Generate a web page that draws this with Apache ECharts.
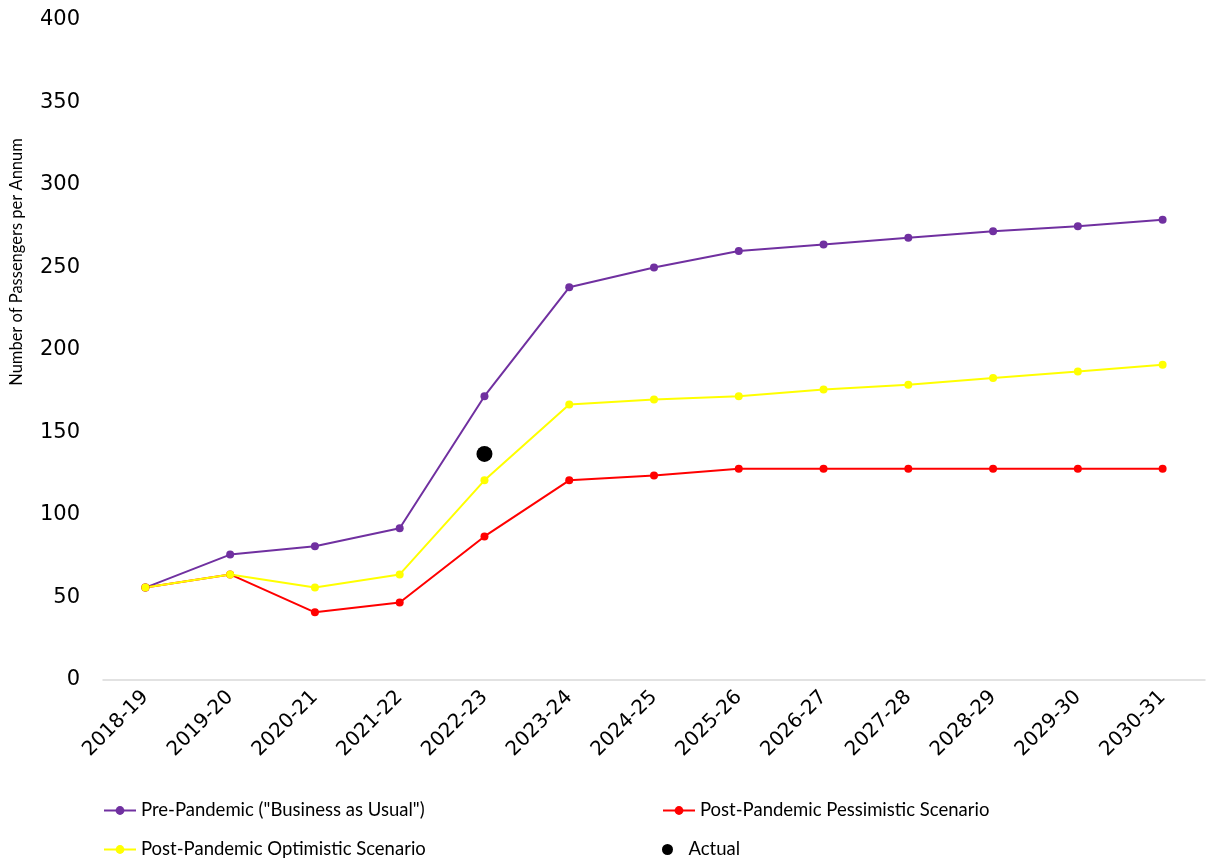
<!DOCTYPE html>
<html>
<head>
<meta charset="utf-8">
<script src="https://cdn.jsdelivr.net/npm/echarts@6/dist/echarts.min.js"></script>
<style>
  html, body { margin: 0; padding: 0; background: #fff; }
  #chart { width: 1210px; height: 860px; }
</style>
</head>
<body>
<div id="chart"></div>
<script>
// Financial years on the x axis
const years = ['2018-19', '2019-20', '2020-21', '2021-22', '2022-23', '2023-24', '2024-25',
  '2025-26', '2026-27', '2027-28', '2028-29', '2029-30', '2030-31'];

// Passenger forecasts per scenario
const prePandemic = [56, 76, 81, 92, 172, 238, 250, 260, 264, 268, 272, 275, 279];
const pessimistic = [56, 64, 41, 47, 87, 121, 124, 128, 128, 128, 128, 128, 128];
const optimistic = [56, 64, 56, 64, 121, 167, 170, 172, 176, 179, 183, 187, 191];
// Observed figure (only 2022-23 known)
const actual = [null, null, null, null, 137, null, null, null, null, null, null, null, null];

const yTicks = { min: 0, max: 400, interval: 50 };

const seriesNames = {
  pre: 'Pre-Pandemic ("Business as Usual")',
  pess: 'Post-Pandemic Pessimistic Scenario',
  opt: 'Post-Pandemic Optimistic Scenario',
  act: 'Actual'
};

const AXIS_FONT = '"DejaVu Sans", Lato, sans-serif';
const LEGEND_FONT = 'Lato, "DejaVu Sans", sans-serif';
const TITLE_FONT = 'Lato, "DejaVu Sans", sans-serif';
const chart = echarts.init(document.getElementById('chart'));

function lineSeries(name, data, color) {
  return {
    name, type: 'line', data,
    symbol: 'circle', symbolSize: 8,
    lineStyle: { color, width: 2 },
    itemStyle: { color },
    z: 2
  };
}

function legendAt(name, left, top) {
  return {
    data: [name], left, top,
    itemWidth: 32, itemHeight: 11, itemGap: 4,
    textStyle: { fontFamily: LEGEND_FONT, fontSize: 18.5, color: '#000' },
    selectedMode: false
  };
}

chart.setOption({
  animation: false,
  backgroundColor: '#fff',
  grid: { left: 103, right: 5, top: 20, bottom: 180 },
  legend: [
    legendAt(seriesNames.pre, 98, 796),
    legendAt(seriesNames.pess, 657, 796),
    legendAt(seriesNames.opt, 98, 835),
    legendAt(seriesNames.act, 657, 835)
  ],
  xAxis: {
    type: 'category',
    data: years,
    boundaryGap: true,
    axisLine: { lineStyle: { color: '#d9d9d9', width: 1.5 } },
    axisTick: { show: false },
    axisLabel: {
      rotate: 45, interval: 0, margin: 14,
      fontFamily: AXIS_FONT, fontSize: 20, color: '#000'
    }
  },
  yAxis: {
    type: 'value',
    min: yTicks.min, max: yTicks.max, interval: yTicks.interval,
    splitLine: { show: false },
    axisLine: { show: false },
    axisTick: { show: false },
    axisLabel: { fontFamily: AXIS_FONT, fontSize: 21, color: '#000', margin: 23 }
  },
  graphic: [{
    type: 'text',
    x: 17, y: 262,
    rotation: Math.PI / 2,
    style: {
      text: 'Number of Passengers per Annum',
      font: '16.5px ' + TITLE_FONT,
      fill: '#000',
      textAlign: 'center',
      textVerticalAlign: 'middle'
    }
  }],
  series: [
    lineSeries(seriesNames.pre, prePandemic, '#7030a0'),
    lineSeries(seriesNames.pess, pessimistic, '#ff0000'),
    lineSeries(seriesNames.opt, optimistic, '#ffff00'),
    {
      name: seriesNames.act, type: 'scatter', data: actual,
      symbol: 'circle', symbolSize: 16,
      itemStyle: { color: '#000', opacity: 1 }, z: 3
    }
  ]
});
</script>
</body>
</html>
